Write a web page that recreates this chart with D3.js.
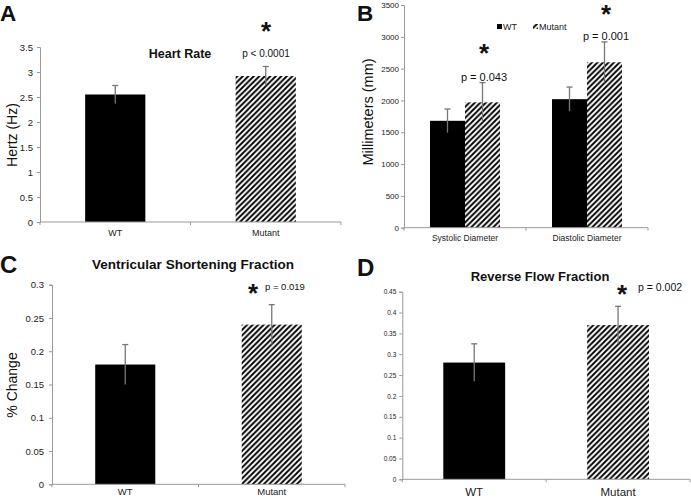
<!DOCTYPE html>
<html><head><meta charset="utf-8">
<script src="https://cdn.jsdelivr.net/npm/d3@7"></script>
<style>body{margin:0;background:#fff}svg{display:block;font-family:"Liberation Sans",Arial,sans-serif}</style>
</head><body>
<svg id="c" width="691" height="499"></svg>
<script>
// ---- data ----
const groupsAC = ["WT", "Mutant"];
const heartRate = [2.55, 2.92];
const heartRateErr = [0.18, 0.19];
const heartTicks = [0, 0.5, 1, 1.5, 2, 2.5, 3, 3.5];
const heartTickLabels = ["0", "0.5", "1", "1.5", "2", "2.5", "3", "3.5"];

const diamCategories = ["Systolic Diameter", "Diastolic Diameter"];
const diamSeries = ["WT", "Mutant"];
const diamWT = [1680, 2020];
const diamWTErr = [185, 190];
const diamMutant = [1970, 2600];
const diamMutantErr = [310, 320];
const diamTicks = [0, 500, 1000, 1500, 2000, 2500, 3000, 3500];
const diamTickLabels = ["0", "500", "1000", "1500", "2000", "2500", "3000", "3500"];

const vsf = [0.18, 0.24];
const vsfErr = [0.03, 0.03];
const vsfTicks = [0, 0.05, 0.1, 0.15, 0.2, 0.25, 0.3];
const vsfTickLabels = ["0", "0.05", "0.1", "0.15", "0.2", "0.25", "0.3"];

const rff = [0.28, 0.37];
const rffErr = [0.045, 0.045];
const rffTicks = [0, 0.05, 0.1, 0.15, 0.2, 0.25, 0.3, 0.35, 0.4, 0.45];
const rffTickLabels = ["0", "0.05", "0.1", "0.15", "0.2", "0.25", "0.3", "0.35", "0.4", "0.45"];

const svg = d3.select("#c");
const defs = svg.append("defs");
const pat = defs.append("pattern").attr("id", "hatch").attr("patternUnits", "userSpaceOnUse")
  .attr("width", 5.5).attr("height", 5.5);
pat.append("rect").attr("width", 5.5).attr("height", 5.5).attr("fill", "#fff");
pat.append("path").attr("d", "M-1,1 l2,-2 M0,5.5 l5.5,-5.5 M4.5,6.5 l2,-2")
  .attr("stroke", "#000").attr("stroke-width", 1.9);

const AX = "#999", ERR = "#777";
function fillFor(i) { return i === 0 ? "#000" : "url(#hatch)"; }

function yAxis(g, y, x0, ticks, labels, fs, pad) {
  const ax = d3.axisLeft(y).tickValues(ticks).tickSize(3).tickPadding(pad)
    .tickFormat((d, i) => labels[i]);
  const gg = g.append("g").attr("transform", `translate(${x0},0)`).call(ax);
  gg.selectAll("path,line").attr("stroke", AX);
  gg.selectAll("text").attr("font-size", fs).attr("fill", "#222").attr("font-family", "Liberation Sans, Arial");
}
function xAxis(g, x, yb, cats, fs, labY) {
  const [a, b] = x.range();
  g.append("line").attr("x1", a).attr("x2", b).attr("y1", yb).attr("y2", yb).attr("stroke", AX);
  const bounds = cats.map(c => x(c)).concat([x(cats[cats.length - 1]) + x.bandwidth()]);
  g.selectAll(null).data(bounds).join("line").attr("x1", d => d).attr("x2", d => d)
    .attr("y1", yb).attr("y2", yb + 3).attr("stroke", AX);
  g.selectAll(null).data(cats).join("text").attr("x", d => x(d) + x.bandwidth() / 2).attr("y", labY)
    .attr("text-anchor", "middle").attr("font-size", fs).attr("fill", "#222").text(d => d);
}
function errBar(g, cx, y, v, e) {
  g.append("line").attr("x1", cx).attr("x2", cx).attr("y1", y(v + e)).attr("y2", y(v - e))
    .attr("stroke", ERR).attr("stroke-width", 1.3);
  g.append("line").attr("x1", cx - 3).attr("x2", cx + 3).attr("y1", y(v + e)).attr("y2", y(v + e))
    .attr("stroke", ERR).attr("stroke-width", 1.3);
}
function txt(t, x, y, fs, opts = {}) {
  return svg.append("text").attr("x", x).attr("y", y).attr("font-size", fs)
    .attr("font-weight", opts.bold ? "bold" : "normal").attr("text-anchor", opts.anchor || "middle")
    .attr("fill", opts.fill || "#111").text(t);
}
function ylab(t, x, y, fs) {
  svg.append("text").attr("transform", `translate(${x},${y}) rotate(-90)`).attr("text-anchor", "middle")
    .attr("font-size", fs).attr("fill", "#111").text(t);
}
function simplePanel(vals, errs, ticks, labels, cfg) {
  const g = svg.append("g");
  const x = d3.scaleBand().domain(groupsAC).range([cfg.x0, cfg.x1]).padding(0);
  const y = d3.scaleLinear().domain([0, ticks[ticks.length - 1]]).range([cfg.yb, cfg.yt]);
  yAxis(g, y, cfg.x0, ticks, labels, cfg.tfs, cfg.tpad);
  const bw = x.bandwidth() * cfg.bf;
  groupsAC.forEach((c, i) => {
    const cx = x(c) + x.bandwidth() / 2;
    g.append("rect").attr("x", cx - bw / 2).attr("width", bw).attr("y", y(vals[i]))
      .attr("height", y(0) - y(vals[i])).attr("fill", fillFor(i));
    errBar(g, cx, y, vals[i], errs[i]);
  });
  xAxis(g, x, cfg.yb, groupsAC, cfg.cfs, cfg.labY);
  return x;
}

// ---- Panel A ----
simplePanel(heartRate, heartRateErr, heartTicks, heartTickLabels,
  { x0: 40, x1: 341, yb: 222, yt: 47, bf: 0.4, tfs: 9.5, tpad: 4, cfs: 9, labY: 236 });
txt("A", 0, 20.5, 22.5, { bold: true, anchor: "start" });
txt("Heart Rate", 180, 58, 12.5, { bold: true });
txt("p < 0.0001", 266, 57, 10);
txt("*", 266, 40, 26, { bold: true });
ylab("Hertz (Hz)", 17, 135, 14);

// ---- Panel B ----
{
  const g = svg.append("g");
  const x = d3.scaleBand().domain(diamCategories).range([404, 648]).padding(0);
  const y = d3.scaleLinear().domain([0, 3500]).range([227.7, 5]);
  yAxis(g, y, 404, diamTicks, diamTickLabels, 8, 2);
  const sub = d3.scaleBand().domain(diamSeries).range([0, 70]);
  const vals = [diamWT, diamMutant], errs = [diamWTErr, diamMutantErr];
  diamCategories.forEach((c, ci) => {
    const left = x(c) + x.bandwidth() / 2 - 35;
    diamSeries.forEach((s, si) => {
      const v = vals[si][ci], e = errs[si][ci];
      g.append("rect").attr("x", left + sub(s)).attr("width", sub.bandwidth()).attr("y", y(v))
        .attr("height", y(0) - y(v)).attr("fill", fillFor(si));
      errBar(g, left + sub(s) + sub.bandwidth() / 2, y, v, e);
    });
  });
  xAxis(g, x, 227.7, diamCategories, 8.5, 241);
  // legend
  g.append("rect").attr("x", 497).attr("y", 24).attr("width", 5).attr("height", 5).attr("fill", "#000");
  g.append("text").attr("x", 503).attr("y", 30).attr("font-size", 9).attr("fill", "#222").text(diamSeries[0]);
  g.append("rect").attr("x", 533).attr("y", 24).attr("width", 5).attr("height", 5).attr("fill", "url(#hatch)");
  g.append("text").attr("x", 539).attr("y", 30).attr("font-size", 9).attr("fill", "#222").text(diamSeries[1]);
}
txt("B", 357, 20.5, 22.5, { bold: true, anchor: "start" });
txt("*", 484, 62, 26, { bold: true });
txt("p = 0.043", 484, 81, 11);
txt("*", 606, 23, 26, { bold: true });
txt("p = 0.001", 606, 40, 11);
ylab("Millimeters (mm)", 373, 112, 14.5);

// ---- Panel C ----
simplePanel(vsf, vsfErr, vsfTicks, vsfTickLabels,
  { x0: 52, x1: 345, yb: 484.3, yt: 284.7, bf: 0.41, tfs: 9.5, tpad: 5, cfs: 9.5, labY: 495 });
txt("C", 0, 273, 24, { bold: true, anchor: "start" });
txt("Ventricular Shortening Fraction", 193, 269, 13.5, { bold: true });
txt("*", 253, 302, 26, { bold: true });
txt("p = 0.019", 265, 290, 9.5, { anchor: "start" });
ylab("% Change", 17, 385, 14);

// ---- Panel D ----
simplePanel(rff, rffErr, rffTicks, rffTickLabels,
  { x0: 402.3, x1: 690, yb: 479.3, yt: 291.7, bf: 0.43, tfs: 6.5, tpad: 3, cfs: 11.5, labY: 496 });
txt("D", 357, 276, 24, { bold: true, anchor: "start" });
txt("Reverse Flow Fraction", 540, 281, 13, { bold: true });
txt("*", 622, 303, 26, { bold: true });
txt("p = 0.002", 638, 291, 10.5, { anchor: "start" });
</script>
</body></html>
